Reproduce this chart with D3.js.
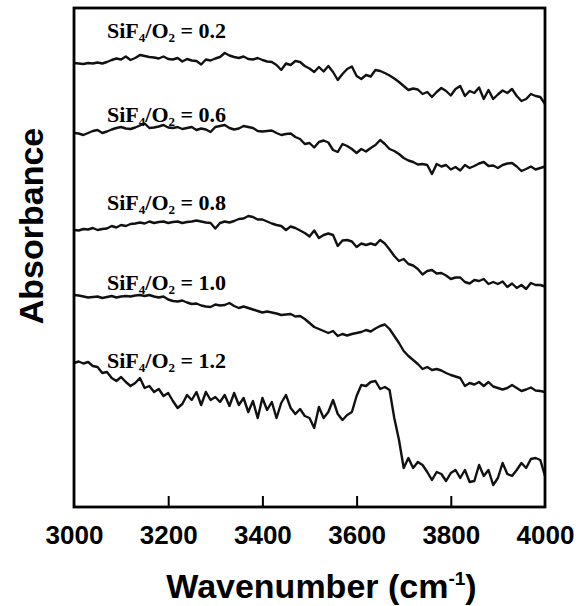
<!DOCTYPE html>
<html>
<head>
<meta charset="utf-8">
<title>SiF4/O2 absorbance spectra</title>
<script src="https://cdn.jsdelivr.net/npm/d3@7/dist/d3.min.js"></script>
<style>
  body { margin: 0; background: #fff; }
  .tick text { font-family: "Liberation Sans", Arial, sans-serif; font-weight: bold; font-size: 26px; fill: #000; }
  .tick line { stroke: #000; stroke-width: 2; }
  .spectrum { fill: none; stroke: #111; stroke-width: 2.4; stroke-linejoin: round; }
  .ratio { font-family: "Liberation Serif", "Times New Roman", serif; font-weight: bold; font-size: 22px; }
  .title { font-family: "Liberation Sans", Arial, sans-serif; font-weight: bold; font-size: 34px; }
</style>
</head>
<body>
<div id="chart"></div>
<script>

// wavenumber grid, cm-1
var wavenumbers = [3000,3010,3020,3030,3040,3050,3060,3070,3080,3090,
  3100,3110,3120,3130,3140,3150,3160,3170,3180,3190,
  3200,3210,3220,3230,3240,3250,3260,3270,3280,3290,
  3300,3310,3320,3330,3340,3350,3360,3370,3380,3390,
  3400,3410,3420,3430,3440,3450,3460,3470,3480,3490,
  3500,3510,3520,3530,3540,3550,3560,3570,3580,3590,
  3600,3610,3620,3630,3640,3650,3660,3670,3680,3690,
  3700,3710,3720,3730,3740,3750,3760,3770,3780,3790,
  3800,3810,3820,3830,3840,3850,3860,3870,3880,3890,
  3900,3910,3920,3930,3940,3950,3960,3970,3980,3990,
  4000];

// absorbance (arbitrary units, curves already offset)
var abs02 = [444,443.5,443,444,443.5,444.5,443.5,445,447,448.5,
  447.5,450.5,447,449,452,451,450,449.5,448.5,450.5,
  448,447.5,449,445.5,448,446.5,446,442.5,447.5,446.5,
  448.5,450,454,451.5,450,449,450.5,448,447.5,449,
  447,445.5,445,442,437,443.5,442,446,445,441,
  438.5,435,440,435.5,441,435,427,433,438,440.5,
  431,428,432,430.5,437,436,434,431.5,428.5,425,
  421,417,418.5,417.5,413,415,410,415,419,416,
  411.5,418,421,411,416,414,419.5,408,417,408,
  412.5,416.5,414,418,411,406,408,413,411,410,
  403];

var abs06 = [374,373.5,372,374,376,377,374,375.5,377.5,379,
  380,378.5,378,379.5,381.5,383.5,379,379.5,380.5,382,
  379.5,379,380,378,379,380,377,378.5,377.5,375,
  380,381,382,379,377.5,378.5,381,380,379,376,
  375.5,376,376.5,374,372,373,373.5,370,368,363,
  364,359.5,365,366.5,364.5,357,355,363,361,358,
  354,358,355.5,359,362,367,363,358,356,353,
  349,346.5,345,342.5,343,342,333,343,340.5,342,
  337.5,340,336.5,342,339,341,343.5,345,341,341.5,
  339,342,343.5,344,340.5,336,338,340.5,337.5,339,
  340.5];

var abs08 = [277,276.5,278,277.5,279,277,278,278.5,281,279.5,
  282,281,283,283.5,284.5,283.5,285.5,284,285,285.5,
  284,285,285.5,284,285,285.5,286.5,285.5,284.5,284,
  278.5,284,285.5,284.5,286,288,288.5,291,290,287.5,
  287.5,285.5,283.5,282,281,277,280.5,279,276.5,274,
  270.5,276.5,269,272,273.5,272,261,266.5,267,265.5,
  260,263.5,262,263.5,262,267,263.5,257.5,251,246,
  248,243,241.5,238,232.5,236,237,233.5,234,231.5,
  228,229.5,229.5,225,223.5,227,226,228,223,225,
  223,225.5,220,223.5,219,222,218,224,222,222,
  220.5];

var abs10 = [212,211.5,210.5,209.5,210,210.5,209,210,211,209.5,
  210.5,211,210.5,211.5,212,211,212,210.5,209.5,210.5,
  207.5,206,205.5,206.5,204.5,203,203.5,201.5,200.5,200,
  202.5,201.5,202,204,201,199,200.5,199,197.5,196,
  194.5,195.5,194.5,193.5,192,192.5,193,190.5,191,188,
  184,180,178,176,174,176,171,173,171.5,173,
  174,175,177,175.5,178.5,181,182.5,178,171,164,
  156,151,147,143,138,140,137,138,136.5,134,
  132,130.5,129,121,124,122.5,125,121,125,120.5,
  119,117.5,119,122,119,116,117.5,119.5,116.5,116,
  115];

var abs12 = [144,145.5,143.5,145,141,140,134,135,129,126,
  130,125,121,124,129,119,121,115,118,111,
  114,106,99,103,112,107,115,102,115,107,
  110,105,112,101,114,102,109,95,106,89,
  109,97,105,89,104,112,99,93,98,91,
  89,79,100,89,95,107,93,87,92,95,
  111,122,121,125,126,118,120,117,89,67,
  39,49,39,45,42,35,27,35,33,26,
  34,37,29,37,25,26,42,31,37,22,
  29,44,33,31,37,44,39,48,49,47,
  31];

var ratios = ["0.2", "0.6", "0.8", "1.0", "1.2"];
var spectra = [abs02, abs06, abs08, abs10, abs12];
var xTicks = [3000, 3200, 3400, 3600, 3800, 4000];

var width = 583,
    height = 606;
var plot = {left: 74, right: 545, top: 8, bottom: 507};
var labelBaselines = [38, 122, 209.5, 290, 368];

var x = d3.scaleLinear().domain([3000, 4000]).range([plot.left, plot.right]);
var y = d3.scaleLinear().domain([0, 500]).range([507, 7]);

var svg = d3.select("#chart").append("svg")
    .attr("width", width)
    .attr("height", height);

var line = d3.line()
    .x(function(d) { return x(d[0]); })
    .y(function(d) { return y(d[1]); });

// spectra
svg.append("g")
  .selectAll("path")
  .data(spectra)
  .enter().append("path")
    .attr("class", "spectrum")
    .attr("d", function(s) {
      return line(s.map(function(v, i) { return [wavenumbers[i], v]; }));
    });

// ratio labels
var labels = svg.append("g")
  .selectAll("text")
  .data(ratios)
  .enter().append("text")
    .attr("class", "ratio")
    .attr("x", 107)
    .attr("y", function(d, i) { return labelBaselines[i]; });

labels.append("tspan").text("SiF");
labels.append("tspan").text("4").attr("font-size", "13px").attr("dy", 4);
labels.append("tspan").text("/O").attr("dy", -4);
labels.append("tspan").text("2").attr("font-size", "13px").attr("dy", 4);
labels.append("tspan").text(function(d) { return " = " + d; }).attr("dy", -4);

// bottom axis, ticks point inward
svg.append("g")
    .attr("transform", "translate(0," + plot.bottom + ")")
    .call(d3.axisBottom(x).tickValues(xTicks).tickSize(-11).tickPadding(19).tickFormat(d3.format("d")))
    .call(function(g) { g.select(".domain").remove(); })
    .call(function(g) {
      g.selectAll(".tick").filter(function(d) { return d === 3000 || d === 4000; }).select("line").remove();
    });

// frame
svg.append("rect")
    .attr("x", plot.left)
    .attr("y", plot.top)
    .attr("width", plot.right - plot.left)
    .attr("height", plot.bottom - plot.top)
    .attr("fill", "none")
    .attr("stroke", "#000")
    .attr("stroke-width", 2.8);

// axis titles
svg.append("text")
    .attr("class", "title")
    .attr("x", (plot.left + plot.right) / 2 + 12)
    .attr("y", 598)
    .attr("text-anchor", "middle")
    .text("Wavenumber (cm")
  .append("tspan")
    .attr("font-size", "19px")
    .attr("dy", -13)
    .text("-1")
  .select(function() { return this.parentNode; })
  .append("tspan")
    .attr("dy", 13)
    .text(")");

svg.append("text")
    .attr("class", "title")
    .attr("transform", "translate(43,226) rotate(-90)")
    .attr("text-anchor", "middle")
    .text("Absorbance");

</script>
</body>
</html>
